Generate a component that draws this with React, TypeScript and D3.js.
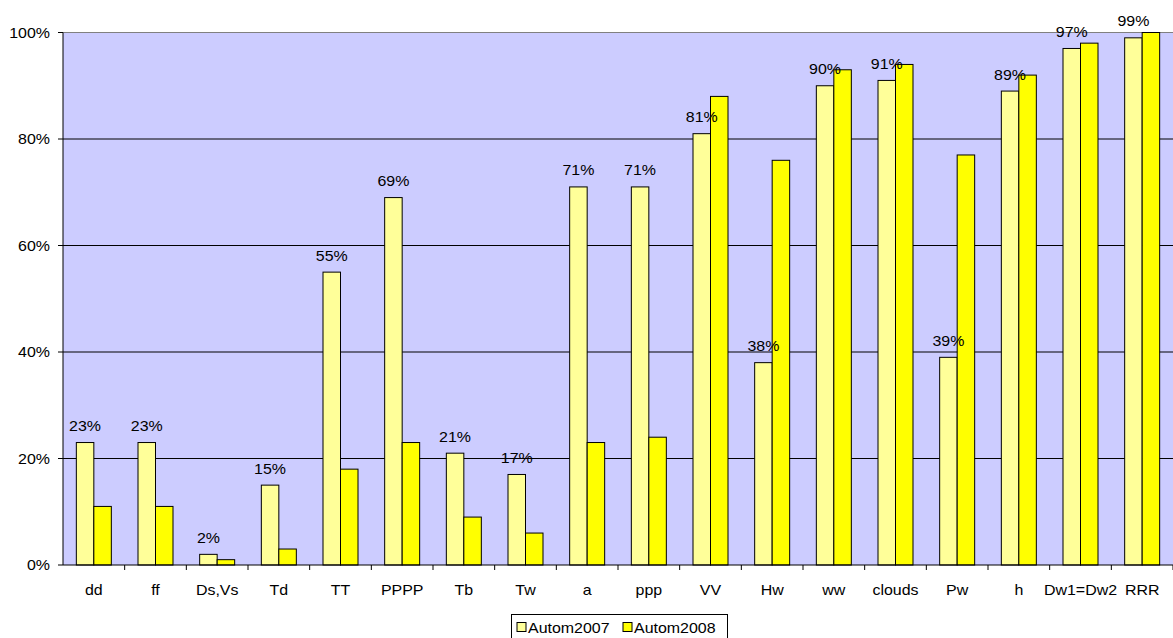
import React from "react";
import * as d3 from "d3";

const categories = ["dd", "ff", "Ds,Vs", "Td", "TT", "PPPP", "Tb", "Tw", "a", "ppp", "VV", "Hw", "ww", "clouds", "Pw", "h", "Dw1=Dw2", "RRR"];
const autom2007 = [23, 23, 2, 15, 55, 69, 21, 17, 71, 71, 81, 38, 90, 91, 39, 89, 97, 99];
const autom2008 = [11, 11, 1, 3, 18, 23, 9, 6, 23, 24, 88, 76, 93, 94, 77, 92, 98, 100];
const yTicks = [0, 20, 40, 60, 80, 100];
const seriesNames = ["Autom2007", "Autom2008"];

const W = 1173;
const H = 638;
const plot = { left: 63, right: 1173, top: 32.5, bottom: 565 };
const colors = ["#FFFF99", "#FFFF00"];
const font = "'Liberation Sans', Arial, sans-serif";

// Text drawn slightly wide, as the chart's original renderer does
function Label({ x, y, anchor = "start", children }: { x: number; y: number; anchor?: string; children: React.ReactNode }) {
  return (
    <text transform={`translate(${x},${y}) scale(1.14,1)`} textAnchor={anchor} fontSize={14} fill="#000">
      {children}
    </text>
  );
}

export default function App() {
  const x = d3.scaleBand<string>().domain(categories).range([plot.left, plot.right]).paddingInner(0).paddingOuter(0);
  const y = d3.scaleLinear().domain([0, 100]).range([plot.bottom, plot.top]);
  const barW = 17.5;
  const series = [autom2007, autom2008];

  return (
    <svg width={W} height={H} style={{ position: "absolute", left: 0, top: 0 }} fontFamily={font}>
      <rect x={plot.left} y={plot.top} width={plot.right - plot.left} height={plot.bottom - plot.top} fill="#CCCCFF" />
      {/* gridlines */}
      {yTicks.filter((t) => t > 0 && t < 100).map((t) => (
        <line key={t} x1={plot.left} x2={plot.right} y1={y(t)} y2={y(t)} stroke="#000" strokeWidth={1} />
      ))}
      <line x1={plot.left} x2={plot.right} y1={y(100)} y2={y(100)} stroke="#808080" strokeWidth={1.2} />
      {/* bars */}
      {categories.map((c, i) => {
        const cx = (x(c) as number) + x.bandwidth() / 2;
        return (
          <g key={c}>
            {series.map((s, k) => (
              <rect
                key={k}
                x={cx - barW + k * barW}
                y={y(s[i])}
                width={barW}
                height={y(0) - y(s[i])}
                fill={colors[k]}
                stroke="#000"
                strokeWidth={1}
              />
            ))}
            <Label x={cx - barW / 2} y={y(autom2007[i]) - 11.5} anchor="middle">
              {autom2007[i]}%
            </Label>
          </g>
        );
      })}
      {/* axes */}
      <line x1={plot.left} x2={plot.left} y1={plot.top} y2={plot.bottom} stroke="#000" />
      <line x1={plot.left} x2={plot.right} y1={plot.bottom} y2={plot.bottom} stroke="#000" />
      {yTicks.map((t) => (
        <g key={t}>
          <line x1={plot.left - 5} x2={plot.left} y1={y(t)} y2={y(t)} stroke="#000" />
          <Label x={plot.left - 13} y={y(t) + 5} anchor="end">
            {t}%
          </Label>
        </g>
      ))}
      {categories.map((c) => (
        <g key={c}>
          <line x1={(x(c) as number) + x.bandwidth()} x2={(x(c) as number) + x.bandwidth()} y1={plot.bottom} y2={plot.bottom + 5} stroke="#000" />
          <Label x={(x(c) as number) + x.bandwidth() / 2} y={595} anchor="middle">
            {c}
          </Label>
        </g>
      ))}
      {/* legend */}
      <g>
        <rect x={511.5} y={614.5} width={216} height={30} fill="#fff" stroke="#000" strokeWidth={1} />
        {seriesNames.map((n, k) => {
          const lx = 517 + k * 106;
          return (
            <g key={n}>
              <rect x={lx} y={622.5} width={9} height={9} fill={colors[k]} stroke="#000" strokeWidth={1} />
              <Label x={lx + 11} y={632.5}>
                {n}
              </Label>
            </g>
          );
        })}
      </g>
    </svg>
  );
}
